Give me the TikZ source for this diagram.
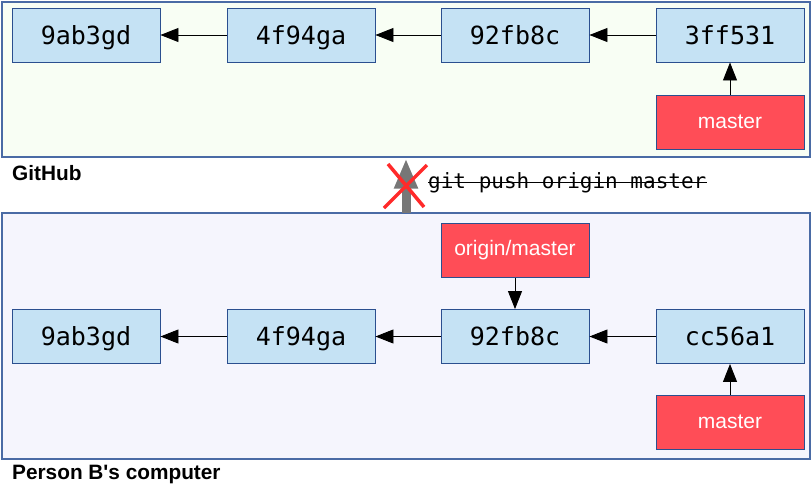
\documentclass[tikz,border=0pt]{standalone}
\usepackage{fontspec}
\setmainfont{Liberation Sans}
\newfontfamily\monofont{DejaVu Sans Mono}
\usetikzlibrary{arrows.meta}
\definecolor{panelborder}{HTML}{4A6BA5}
\definecolor{topfill}{HTML}{F8FEF4}
\definecolor{botfill}{HTML}{F5F5FD}
\definecolor{commitfill}{HTML}{C5E2F4}
\definecolor{commitborder}{HTML}{2B4F8F}
\definecolor{reffill}{HTML}{FF4D57}
\definecolor{crossred}{HTML}{FF2A2A}
\definecolor{pushgray}{HTML}{777777}
\tikzset{
  panel/.style={draw=panelborder, line width=1.6pt},
  commit/.style={draw=commitborder, fill=commitfill, line width=0.9pt, minimum width=148pt, minimum height=54pt, inner sep=0pt, text height=20pt, text depth=1.5pt, font=\monofont\fontsize{25}{28}\selectfont},
  ref/.style={draw=commitborder, fill=reffill, line width=0.9pt, minimum width=148pt, minimum height=54pt, inner sep=0pt, text=white, font=\fontsize{21}{24}\selectfont},
  parent/.style={-{Triangle[length=18pt,width=14pt]}, line width=0.9pt, black},
  label/.style={anchor=west, inner sep=0pt, font=\bfseries\fontsize{20.8}{24}\selectfont}
}
\begin{document}
\begin{tikzpicture}[x=1pt,y=-1pt]
\useasboundingbox (0,0) rectangle (812,491);
% panels
\draw[panel, fill=topfill] (2,2) rectangle (810,157);
\draw[panel, fill=botfill] (2,213) rectangle (810,459);
\node[label] (github) at (12,173) {GitHub};
\node[label] (personb) at (12,474) {Person B\textquotesingle s computer};
% top row
\node[commit] (t1) at (86,35) {9ab3gd};
\node[commit] (t2) at (301,35) {4f94ga};
\node[commit] (t3) at (515,35) {92fb8c};
\node[commit] (t4) at (730,35) {3ff531};
\node[ref] (tm) at (730,122) {master};
\draw[parent] (t2) -- (t1);
\draw[parent] (t3) -- (t2);
\draw[parent] (t4) -- (t3);
\draw[parent] (tm) -- (t4);
% bottom row
\node[ref] (om) at (515,250.5) {origin/master};
\node[commit] (b1) at (86,336.5) {9ab3gd};
\node[commit] (b2) at (301,336.5) {4f94ga};
\node[commit] (b3) at (515,336.5) {92fb8c};
\node[commit] (b4) at (730,336.5) {cc56a1};
\node[ref] (bm) at (730,422) {master};
\draw[parent] (b2) -- (b1);
\draw[parent] (b3) -- (b2);
\draw[parent] (b4) -- (b3);
\draw[parent] (om) -- (b3);
\draw[parent] (bm) -- (b4);
% push attempt
\coordinate (pushfrom) at (406,213);
\coordinate (pushto) at (406,158.5);
\draw[pushgray, line width=9pt, -{Triangle[length=30pt,width=22pt]}] (pushfrom) -- (pushto);
\coordinate (xa) at (384,208);
\coordinate (xb) at (427,165);
\coordinate (xc) at (388,164);
\coordinate (xd) at (424,207);
\draw[crossred, line width=3.5pt] (xa) -- (xb);
\draw[crossred, line width=3.5pt] (xc) -- (xd);
\node[anchor=west, inner sep=0pt, font=\monofont\fontsize{21}{24}\selectfont] (cmd) at (428,183) {git push origin master};
\draw[line width=1pt] (cmd.west) ++(0,-1) -- ([yshift=1pt]cmd.east);
\end{tikzpicture}
\end{document}
